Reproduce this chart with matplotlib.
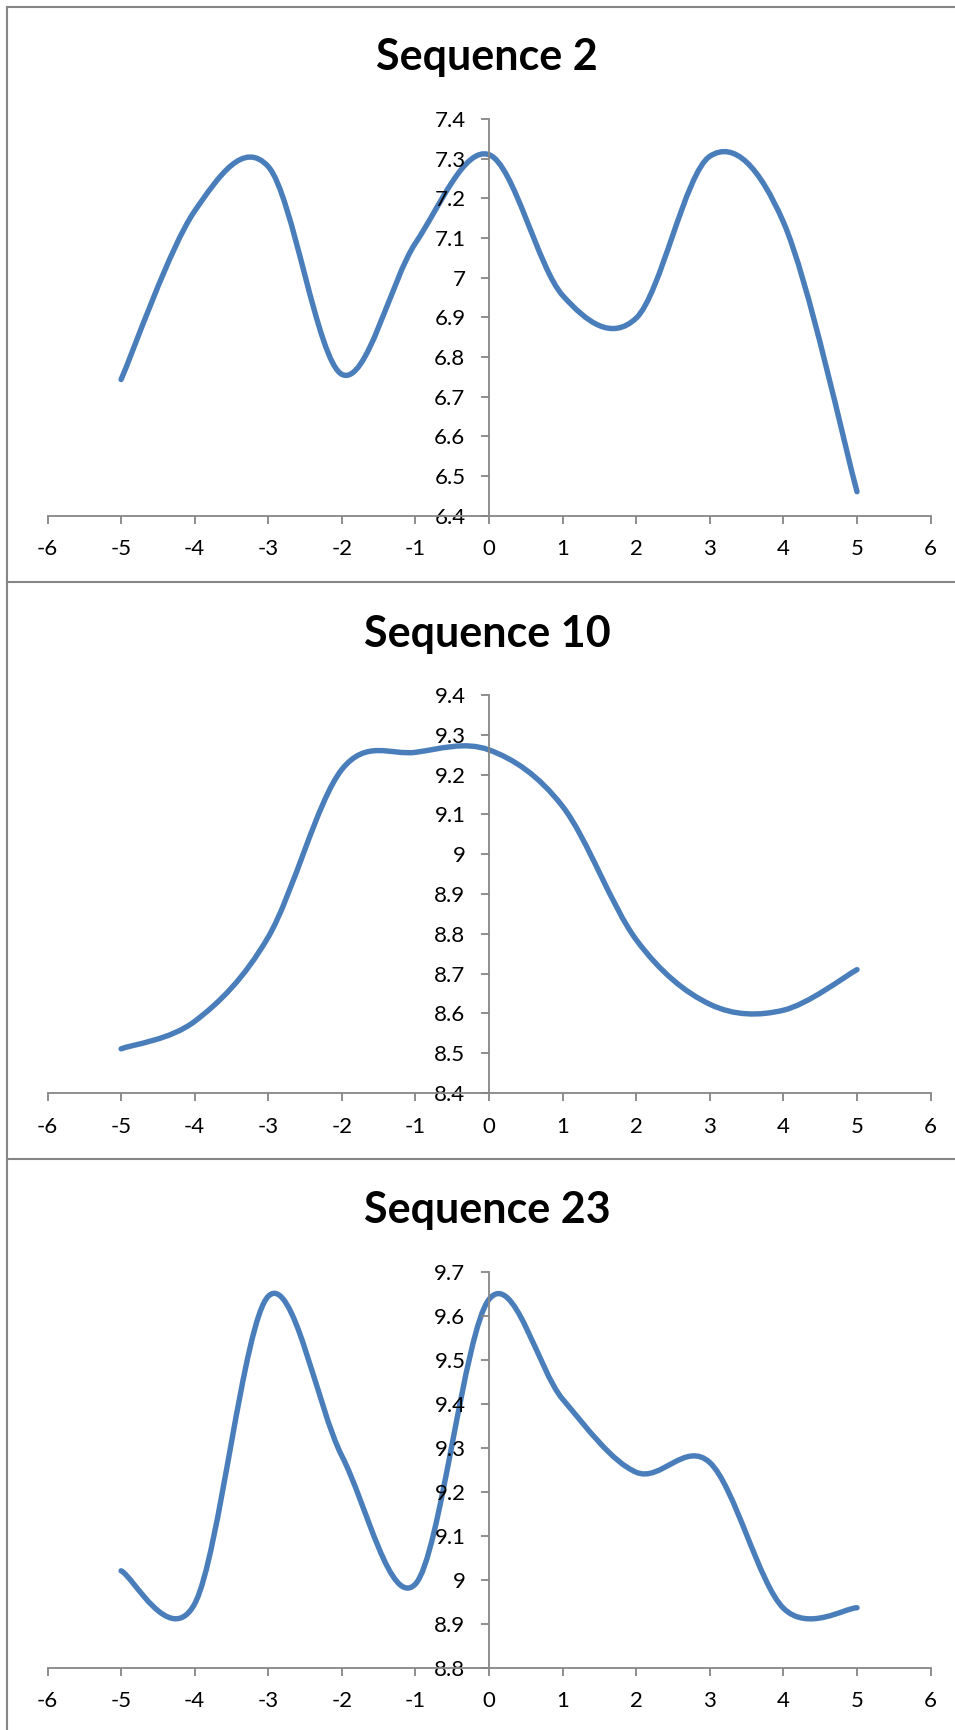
"""
Three smoothed sequence curves, stacked (Excel-style line charts).
"""

import matplotlib

matplotlib.use("Agg")
import matplotlib.pyplot as plt
import numpy as np
from matplotlib.lines import Line2D
from matplotlib.patches import PathPatch
from matplotlib.path import Path
from matplotlib.ticker import FuncFormatter, MultipleLocator

X = [-5, -4, -3, -2, -1, 0, 1, 2, 3, 4, 5]
SEQ2 = [6.743, 7.168, 7.28, 6.756, 7.087, 7.31, 6.955, 6.898, 7.306, 7.14, 6.46]
SEQ10 = [8.511, 8.58, 8.792, 9.213, 9.256, 9.262, 9.12, 8.785, 8.623, 8.608, 8.71]
SEQ23 = [9.02, 8.945, 9.644, 9.281, 8.99, 9.637, 9.41, 9.244, 9.266, 8.935, 8.936]

TITLES = ["Sequence 2", "Sequence 10", "Sequence 23"]
SERIES = [SEQ2, SEQ10, SEQ23]
YLIMS = [(6.4, 7.4), (8.4, 9.4), (8.8, 9.7)]

W, H = 955, 1730
BLUE = "#4A7EBB"
GREY = "#868686"

plt.rcParams["font.family"] = ["Lato", "DejaVu Sans"]
plt.rcParams["axes.unicode_minus"] = False


def smooth_path(x, y):
    # cubic Bezier through every point, like Excel's "smoothed line"
    pts = np.column_stack([x, y]).astype(float)
    padded = np.vstack([pts[0], pts, pts[-1]])
    verts = [pts[0]]
    codes = [Path.MOVETO]
    for i in range(len(pts) - 1):
        p0, p1, p2, p3 = padded[i], padded[i + 1], padded[i + 2], padded[i + 3]
        verts += [p1 + (p2 - p0) / 6, p2 - (p3 - p1) / 6, p2]
        codes += [Path.CURVE4] * 3
    return Path(verts, codes)


def main():
    fig = plt.figure(figsize=(W / 100, H / 100), dpi=100)

    # pixel boxes of each plot area: (top, bottom)
    boxes = [(119, 515.5), (695, 1093), (1271.6, 1667.6)]
    title_y = [57, 634, 1210]
    left_px, right_px = 47.5, 930.6

    for i in range(3):
        top, bottom = boxes[i]
        ax = fig.add_axes([
            left_px / W,
            1 - bottom / H,
            (right_px - left_px) / W,
            (bottom - top) / H,
        ])
        ax.add_patch(PathPatch(
            smooth_path(X, SERIES[i]),
            fill=False,
            edgecolor=BLUE,
            lw=3.9,
            capstyle="round",
            joinstyle="round",
        ))
        ax.set_xlim(-6, 6)
        ax.set_ylim(*YLIMS[i])
        ax.xaxis.set_major_locator(MultipleLocator(1))
        ax.yaxis.set_major_locator(MultipleLocator(0.1))
        ax.yaxis.set_major_formatter(FuncFormatter(lambda v, p: f"{round(v, 1):g}"))

        ax.spines["top"].set_visible(False)
        ax.spines["right"].set_visible(False)
        ax.spines["left"].set_position(("data", 0))
        for s in ("left", "bottom"):
            ax.spines[s].set_color(GREY)
            ax.spines[s].set_linewidth(1.3)
        ax.tick_params(axis="both", direction="out", length=6, width=1.3,
                       color=GREY, labelsize=16, labelcolor="black")
        ax.tick_params(axis="x", pad=11)
        ax.tick_params(axis="y", pad=11)
        ax.patch.set_alpha(0)

        fig.text(487 / W, 1 - title_y[i] / H, TITLES[i], ha="center", va="center",
                 fontsize=31, fontweight="bold")

    # chart borders
    for y in (7, 582, 1159):
        fig.add_artist(Line2D([6.7 / W, 1], [1 - y / H, 1 - y / H],
                              transform=fig.transFigure, color=GREY, lw=1.5))
    fig.add_artist(Line2D([6.7 / W, 6.7 / W], [1 - 7 / H, 0],
                          transform=fig.transFigure, color=GREY, lw=1.5))

    fig.savefig("out.png", dpi=100)
    plt.close(fig)


if __name__ == "__main__":
    main()
